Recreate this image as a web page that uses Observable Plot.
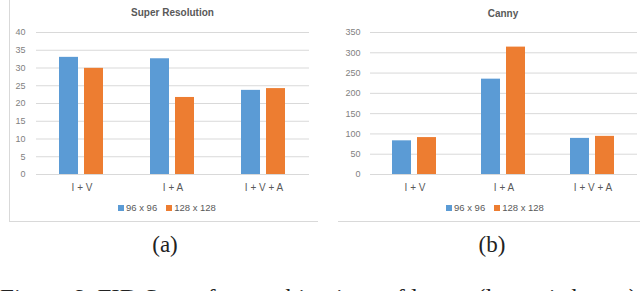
<!DOCTYPE html>
<html>
<head>
<meta charset="utf-8">
<script src="https://cdn.jsdelivr.net/npm/d3@7"></script>
<script src="https://cdn.jsdelivr.net/npm/@observablehq/plot@0.6"></script>
<style>
  html, body { margin: 0; padding: 0; background: #fff; width: 640px; height: 291px; overflow: hidden; position: relative; }
  .abs { position: absolute; }
  .title { font-family: "Liberation Sans", Arial, sans-serif; font-size: 10px; font-weight: bold; color: #595959; text-align: center; }
  .legend { font-family: "Liberation Sans", Arial, sans-serif; font-size: 9.5px; color: #595959; display: flex; align-items: center; white-space: nowrap; }
  .sw { display: inline-block; width: 6px; height: 6px; margin-right: 2px; }
  .cap { font-family: "Liberation Serif", "DejaVu Serif", serif; font-size: 23px; color: #222; white-space: nowrap; }
</style>
</head>
<body>
<div id="root"></div>
<script>
const categories = ["I + V", "I + A", "I + V + A"];
const series = ["96 x 96", "128 x 128"];
const colors = ["#5B9BD5", "#ED7D31"];

const srValues96 = [33.0, 32.6, 23.7];
const srValues128 = [29.9, 21.7, 24.2];
const srTicks = [0, 5, 10, 15, 20, 25, 30, 35, 40];

const cannyValues96 = [83, 235, 89];
const cannyValues128 = [91, 314, 94];
const cannyTicks = [0, 50, 100, 150, 200, 250, 300, 350];

function table(v96, v128) {
  const rows = [];
  categories.forEach((c, i) => {
    rows.push({category: c, series: series[0], value: v96[i]});
    rows.push({category: c, series: series[1], value: v128[i]});
  });
  return rows;
}

function chart(rows, ticks, opts) {
  return Plot.plot({
    width: opts.width,
    height: 196,
    marginTop: 32,
    marginBottom: 22,
    marginLeft: opts.marginLeft,
    marginRight: opts.marginRight,
    style: {fontFamily: "'Liberation Sans', Arial, sans-serif", fontSize: "9px", color: "#595959", background: "transparent", overflow: "visible"},
    fx: {domain: categories, padding: 0, label: null},
    x: {domain: series, axis: null, paddingInner: 0.23, paddingOuter: 0.88},
    y: {domain: [ticks[0], ticks[ticks.length - 1]], label: null},
    color: {domain: series, range: colors},
    marks: [
      Plot.gridY(ticks, {stroke: "#d9d9d9", strokeOpacity: 1}),
      Plot.axisY(ticks, {tickSize: 0, tickPadding: opts.tickPadding, fontSize: 9, fill: "#7f7f7f", label: null}),
      Plot.axisFx({anchor: "bottom", tickSize: 0, tickPadding: 9, fontSize: 10, fill: "#595959", label: null}),
      Plot.barY(rows, {fx: "category", x: "series", y: "value", fill: "series"})
    ]
  });
}

function legend(left, top) {
  const d = document.createElement("div");
  d.className = "abs legend";
  d.style.left = left + "px";
  d.style.top = top + "px";
  series.forEach((s, i) => {
    const sw = document.createElement("span");
    sw.className = "sw";
    sw.style.background = colors[i];
    const t = document.createElement("span");
    t.textContent = s;
    t.style.marginRight = i === 0 ? "9px" : "0";
    d.appendChild(sw); d.appendChild(t);
  });
  return d;
}

function place(el, left, top) {
  el.classList.add("abs");
  el.style.left = left + "px";
  el.style.top = top + "px";
  document.body.appendChild(el);
  return el;
}

function textDiv(cls, txt, left, top, width) {
  const d = document.createElement("div");
  d.className = "abs " + cls;
  d.textContent = txt;
  d.style.left = left + "px";
  d.style.top = top + "px";
  if (width) d.style.width = width + "px";
  document.body.appendChild(d);
  return d;
}

// panel borders
const b1 = document.createElement("div");
b1.className = "abs";
Object.assign(b1.style, {left: "9px", top: "0px", width: "309px", height: "222px", borderLeft: "1px solid #d9d9d9", borderBottom: "1px solid #d9d9d9", boxSizing: "border-box"});
document.body.appendChild(b1);
const b2 = document.createElement("div");
b2.className = "abs";
Object.assign(b2.style, {left: "338px", top: "0px", width: "302px", height: "222px", borderBottom: "1px solid #d9d9d9", boxSizing: "border-box"});
document.body.appendChild(b2);

// left chart
place(chart(table(srValues96, srValues128), srTicks, {width: 309, marginLeft: 26, marginRight: 8, tickPadding: 11}), 9, 0);
textDiv("title", "Super Resolution", 9 + 26, 7, 275);
document.body.appendChild(legend(118, 202));

// right chart
place(chart(table(cannyValues96, cannyValues128), cannyTicks, {width: 302, marginLeft: 31, marginRight: 3, tickPadding: 10}), 338, 0);
textDiv("title", "Canny", 338 + 31, 8, 268);
document.body.appendChild(legend(446, 202));

// sub-captions
textDiv("cap", "(a)", 115, 232, 100).style.textAlign = "center";
textDiv("cap", "(b)", 442, 232, 100).style.textAlign = "center";
const fig = textDiv("cap", "Figure 6: FID Score for combinations of layers (lower is better)", 0, 283);
fig.style.lineHeight = "1";
fig.style.paddingTop = "3px";
const w = fig.getBoundingClientRect().width;
fig.style.transformOrigin = "0 0";
fig.style.transform = "scaleX(" + (637 / w) + ")";
</script>
</body>
</html>
